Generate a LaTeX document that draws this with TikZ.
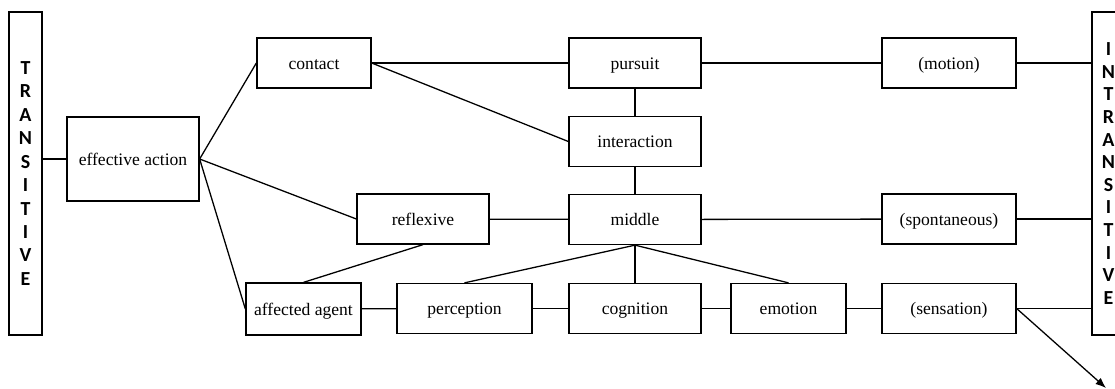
\documentclass[tikz,border=0pt]{standalone}
\usepackage{fontspec}
\setmainfont{Liberation Serif}
\newfontfamily\stackfont{Carlito}
\usetikzlibrary{arrows.meta,positioning}

\begin{document}
\begin{tikzpicture}[
  x=0.03cm,y=-0.03cm,
  box/.style={draw,line width=1.1pt,minimum width=3.96cm,minimum height=1.5cm,
              inner sep=0pt,align=center,text height=13pt,text depth=2pt,
              font=\fontsize{15}{17}\selectfont},
  side/.style={draw,line width=1.1pt,minimum width=0.99cm,minimum height=9.69cm,
               inner sep=0pt,align=center,font=\stackfont\bfseries\fontsize{17}{20}\selectfont},
  link/.style={line width=1.1pt},
  arr/.style={-{Latex[length=9pt,width=7pt]},line width=1.1pt}
]
\useasboundingbox (0,0) rectangle (1115,388);

% outer bars
\node[side] (trans) at (25.5,173.5) {T\\R\\A\\N\\S\\I\\T\\I\\V\\E};
\node[side,font=\stackfont\bfseries\fontsize{17}{19.3}\selectfont] (intr) at (1108.5,173.5) {I\\N\\T\\R\\A\\N\\S\\I\\T\\I\\V\\E};

% boxes
\node[box,minimum height=2.52cm] (eff) at (133,159) {effective action};
\node[box,minimum width=3.42cm] (contact) at (314,63) {contact};
\node[box] (pursuit) at (635,63) {pursuit};
\node[box] (inter) at (635,141.5) {interaction};
\node[box,minimum width=4.02cm] (motion) at (949,63) {(motion)};
\node[box] (refl) at (423,219) {reflexive};
\node[box] (middle) at (635,219.5) {middle};
\node[box,minimum width=4.02cm] (spont) at (949,219) {(spontaneous)};
\node[box,minimum width=3.45cm,minimum height=1.56cm] (agent) at (303.5,309) {affected agent};
\node[box,minimum width=4.05cm] (perc) at (464.5,308.5) {perception};
\node[box] (cogn) at (635,308.5) {cognition};
\node[box,minimum width=3.45cm] (emot) at (788.5,308.5) {emotion};
\node[box,minimum width=4.02cm] (sens) at (949,308.5) {(sensation)};
\coordinate (out) at (1106,388);

% connectors
\draw[link] (eff.west -| trans.east) -- (eff.west);
\draw[link] (eff.east) -- (contact.west);
\draw[link] (eff.east) -- (refl.west);
\draw[link] (eff.east) -- (agent.west);
\draw[link] (contact.east) -- (pursuit.west);
\draw[link] (contact.east) -- (inter.west);
\draw[link] (pursuit) -- (inter);
\draw[link] (inter) -- (middle);
\draw[link] (refl) -- (middle);
\draw[link] (refl.south) -- (agent.north);
\draw[link] (middle.south) -- (perc.north);
\draw[link] (middle.south) -- (cogn.north);
\draw[link] (middle.south) -- (emot.north);
\draw[link] (agent) -- (perc);
\draw[link] (perc) -- (cogn);
\draw[link] (cogn) -- (emot);
\draw[link] (emot) -- (sens);
\draw[link] (pursuit) -- (motion);
\draw[link] (middle) -- (spont);
\draw[link] (motion.east) -- (motion.east -| intr.west);
\draw[link] (spont.east) -- (spont.east -| intr.west);
\draw[link] (sens.east) -- (sens.east -| intr.west);
\draw[arr] (sens.east) -- (out);
\end{tikzpicture}
\end{document}
